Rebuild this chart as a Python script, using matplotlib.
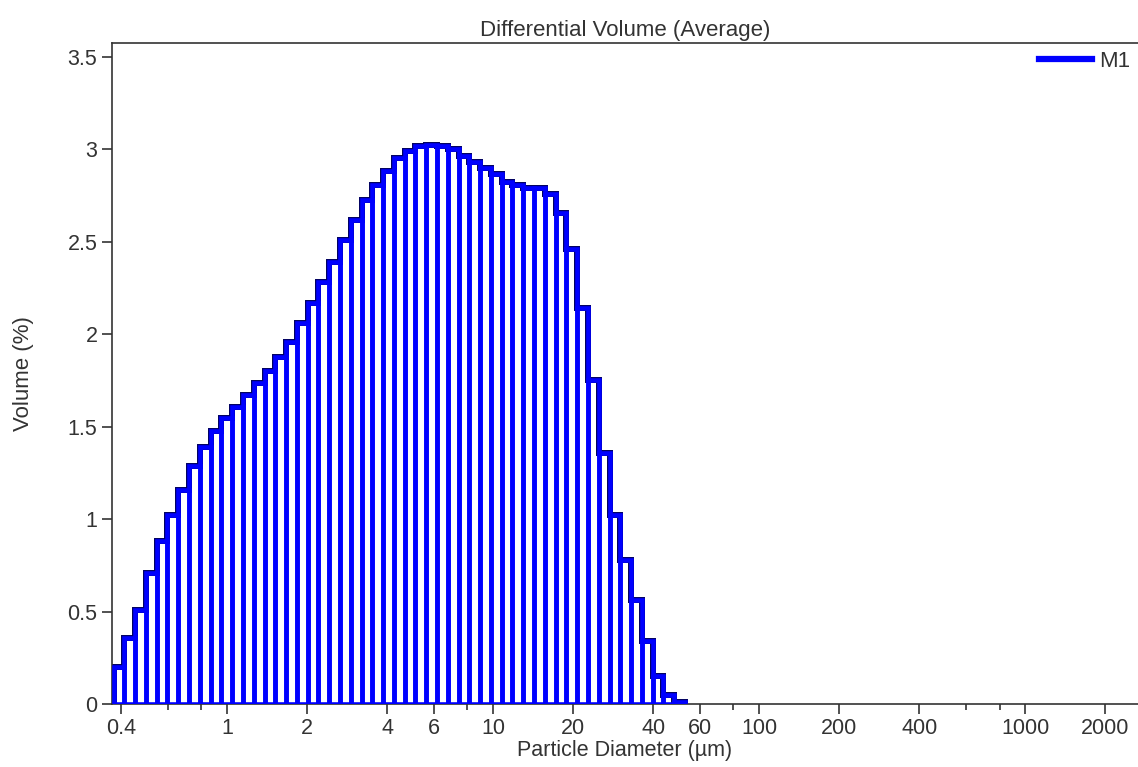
import matplotlib.pyplot as plt
from matplotlib.lines import Line2D
from matplotlib.ticker import FixedLocator, FixedFormatter, NullFormatter

plt.rcParams['font.family'] = ['Liberation Sans', 'DejaVu Sans']

# Channel edges of the particle size analyser (um)
bin_edges = [0.375, 0.412, 0.452, 0.496, 0.545, 0.598, 0.657, 0.721, 0.791, 0.869,
             0.953, 1.047, 1.149, 1.261, 1.385, 1.520, 1.669, 1.832, 2.011, 2.207,
             2.423, 2.660, 2.920, 3.205, 3.519, 3.863, 4.240, 4.655, 5.110, 5.610,
             6.158, 6.760, 7.421, 8.147, 8.943, 9.817, 10.78, 11.83, 12.99, 14.26,
             15.65, 17.18, 18.86, 20.71, 22.73, 24.95, 27.39, 30.07, 33.01, 36.24,
             39.78, 43.67, 47.94, 52.62]

# Differential volume (%) per channel, sample M1
volume_m1 = [0.20, 0.355, 0.51, 0.71, 0.88, 1.025, 1.16, 1.285, 1.39, 1.475,
             1.545, 1.608, 1.67, 1.734, 1.80, 1.878, 1.96, 2.06, 2.167, 2.284,
             2.392, 2.51, 2.618, 2.726, 2.807, 2.884, 2.951, 2.993, 3.02, 3.025,
             3.02, 3.0, 2.965, 2.933, 2.897, 2.865, 2.825, 2.807, 2.79, 2.79,
             2.758, 2.657, 2.459, 2.14, 1.75, 1.36, 1.02, 0.78, 0.56, 0.34,
             0.15, 0.05, 0.01]

x_major = [0.4, 1, 2, 4, 6, 10, 20, 40, 60, 100, 200, 400, 1000, 2000]
x_major_labels = ['0.4', '1', '2', '4', '6', '10', '20', '40', '60', '100',
                  '200', '400', '1000', '2000']
x_minor = [0.6, 0.8, 8, 80, 600, 800]
y_ticks = [0, 0.5, 1, 1.5, 2, 2.5, 3, 3.5]
y_labels = ['0', '0.5', '1', '1.5', '2', '2.5', '3', '3.5']

text_col = '#333333'
blue = '#0000ff'
navy = '#000060'

fig = plt.figure(figsize=(11.38, 7.67), dpi=100)
ax = fig.add_axes([0.0984, 0.0821, 0.9016, 0.8618])
ax.set_xscale('log')

widths = [b - a for a, b in zip(bin_edges[:-1], bin_edges[1:])]
# thin dark rim around the histogram, blue bars on top
ax.stairs(volume_m1, bin_edges, color=navy, lw=4.3, zorder=2)
ax.bar(bin_edges[:-1], volume_m1, width=widths, align='edge', fill=False,
       edgecolor=blue, lw=3.3, zorder=3)

ax.set_xlim(0.37, 2650)
ax.set_ylim(0, 3.575)

ax.xaxis.set_major_locator(FixedLocator(x_major))
ax.xaxis.set_major_formatter(FixedFormatter(x_major_labels))
ax.xaxis.set_minor_locator(FixedLocator(x_minor))
ax.xaxis.set_minor_formatter(NullFormatter())
ax.set_yticks(y_ticks)
ax.set_yticklabels(y_labels)

ax.tick_params(axis='both', which='major', labelsize=15.5, colors=text_col,
               length=7, width=1.2, direction='out')
ax.tick_params(axis='x', which='minor', length=4, width=1.2, colors=text_col)
ax.tick_params(axis='x', which='major', pad=3)

for side in ['left', 'bottom', 'top']:
    ax.spines[side].set_color(text_col)
    ax.spines[side].set_linewidth(1.2)
ax.spines['right'].set_visible(False)

ax.set_title('Differential Volume (Average)', fontsize=16, color=text_col, pad=5)
ax.set_xlabel('Particle Diameter (\u00b5m)', fontsize=15.5, color=text_col, labelpad=1)
ax.set_ylabel('Volume (%)', fontsize=16, color=text_col, labelpad=24)

handle = Line2D([], [], color=blue, lw=4.5, label='M1')
leg = ax.legend(handles=[handle], loc='upper right', frameon=False, fontsize=16,
                handlelength=2.4, handletextpad=0.3, borderaxespad=0.05,
                borderpad=0.3)
for t in leg.get_texts():
    t.set_color(text_col)

fig.savefig('out.png', dpi=100)
